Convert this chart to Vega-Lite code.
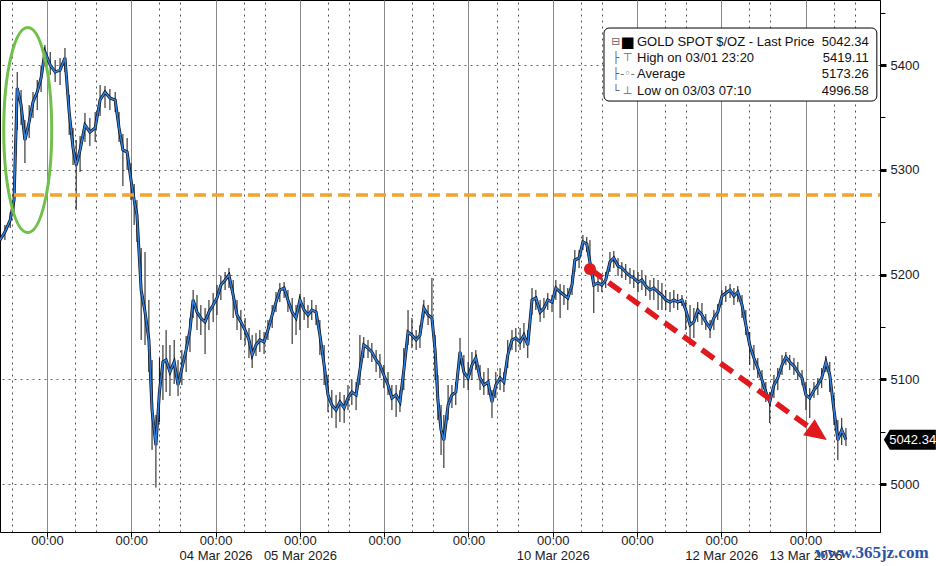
{
  "$schema": "https://vega.github.io/schema/vega-lite/v6.json",
  "width": 880,
  "height": 532,
  "autosize": "none",
  "padding": {"left": 0, "top": 0, "right": 56, "bottom": 34},
  "background": "white",
  "config": {
    "view": {"stroke": "#000", "strokeWidth": 1},
    "axis": {"labelFont": "Liberation Sans", "labelColor": "#1a1a1a", "title": null}
  },
  "datasets": {
    "gold": [
      {"t": -13.4, "p": 5232.9, "hi": 5240.6, "lo": 5223.4},
      {"t": -12.0, "p": 5240.6, "hi": 5247.3, "lo": 5232.9},
      {"t": -10.5, "p": 5252.0, "hi": 5259.7, "lo": 5244.4},
      {"t": -9.4, "p": 5271.1, "hi": 5277.8, "lo": 5259.7},
      {"t": -8.5, "p": 5378.0, "hi": 5393.3, "lo": 5337.9},
      {"t": -7.4, "p": 5361.8, "hi": 5376.1, "lo": 5342.7},
      {"t": -6.3, "p": 5328.4, "hi": 5347.5, "lo": 5306.4},
      {"t": -5.1, "p": 5345.6, "hi": 5361.8, "lo": 5330.3},
      {"t": -4.0, "p": 5364.7, "hi": 5374.2, "lo": 5349.4},
      {"t": -2.8, "p": 5374.2, "hi": 5385.7, "lo": 5357.0},
      {"t": -1.7, "p": 5387.6, "hi": 5399.0, "lo": 5374.2},
      {"t": -0.6, "p": 5412.4, "hi": 5419.1, "lo": 5401.0},
      {"t": 0.9, "p": 5400.0, "hi": 5412.4, "lo": 5390.5},
      {"t": 2.3, "p": 5393.3, "hi": 5404.8, "lo": 5383.8},
      {"t": 3.7, "p": 5395.2, "hi": 5406.7, "lo": 5380.9},
      {"t": 5.1, "p": 5406.7, "hi": 5416.2, "lo": 5393.3},
      {"t": 6.3, "p": 5355.1, "hi": 5371.4, "lo": 5333.2},
      {"t": 7.4, "p": 5320.8, "hi": 5339.9, "lo": 5304.5},
      {"t": 8.3, "p": 5304.5, "hi": 5328.4, "lo": 5261.6},
      {"t": 9.4, "p": 5318.9, "hi": 5332.2, "lo": 5297.9},
      {"t": 10.8, "p": 5342.7, "hi": 5354.2, "lo": 5326.5},
      {"t": 12.2, "p": 5336.0, "hi": 5349.4, "lo": 5322.7},
      {"t": 13.7, "p": 5339.9, "hi": 5355.1, "lo": 5326.5},
      {"t": 15.1, "p": 5366.6, "hi": 5380.9, "lo": 5351.3},
      {"t": 16.5, "p": 5374.2, "hi": 5380.0, "lo": 5359.0},
      {"t": 17.9, "p": 5368.5, "hi": 5377.1, "lo": 5357.0},
      {"t": 19.4, "p": 5366.6, "hi": 5374.2, "lo": 5355.1},
      {"t": 20.5, "p": 5339.9, "hi": 5355.1, "lo": 5326.5},
      {"t": 21.6, "p": 5318.9, "hi": 5334.1, "lo": 5284.5},
      {"t": 22.8, "p": 5316.9, "hi": 5330.3, "lo": 5299.8},
      {"t": 23.9, "p": 5290.2, "hi": 5306.4, "lo": 5271.1},
      {"t": 24.8, "p": 5271.1, "hi": 5286.4, "lo": 5247.3},
      {"t": 25.6, "p": 5256.8, "hi": 5271.1, "lo": 5231.0},
      {"t": 26.8, "p": 5185.2, "hi": 5225.3, "lo": 5137.5},
      {"t": 27.9, "p": 5164.2, "hi": 5221.5, "lo": 5132.7},
      {"t": 29.0, "p": 5137.5, "hi": 5175.7, "lo": 5106.9},
      {"t": 29.9, "p": 5070.6, "hi": 5118.4, "lo": 5032.5},
      {"t": 31.0, "p": 5037.2, "hi": 5065.9, "lo": 4996.6},
      {"t": 32.0, "p": 5087.8, "hi": 5120.3, "lo": 5059.2},
      {"t": 33.0, "p": 5116.5, "hi": 5132.7, "lo": 5080.2},
      {"t": 33.9, "p": 5118.4, "hi": 5147.0, "lo": 5087.8},
      {"t": 35.0, "p": 5106.9, "hi": 5132.7, "lo": 5084.0},
      {"t": 36.2, "p": 5116.5, "hi": 5137.5, "lo": 5095.5},
      {"t": 37.3, "p": 5094.5, "hi": 5118.4, "lo": 5084.0},
      {"t": 38.4, "p": 5110.7, "hi": 5127.9, "lo": 5094.5},
      {"t": 39.6, "p": 5127.9, "hi": 5141.3, "lo": 5106.9},
      {"t": 40.7, "p": 5147.0, "hi": 5158.5, "lo": 5126.0},
      {"t": 41.6, "p": 5175.7, "hi": 5185.2, "lo": 5158.5},
      {"t": 42.7, "p": 5164.2, "hi": 5180.4, "lo": 5147.0},
      {"t": 43.8, "p": 5158.5, "hi": 5170.9, "lo": 5142.2},
      {"t": 45.0, "p": 5154.7, "hi": 5168.0, "lo": 5124.1},
      {"t": 46.1, "p": 5164.2, "hi": 5175.7, "lo": 5147.0},
      {"t": 47.3, "p": 5170.9, "hi": 5182.3, "lo": 5154.7},
      {"t": 48.4, "p": 5177.6, "hi": 5190.0, "lo": 5161.3},
      {"t": 49.5, "p": 5190.0, "hi": 5198.6, "lo": 5175.7},
      {"t": 50.7, "p": 5194.8, "hi": 5202.4, "lo": 5185.2},
      {"t": 51.8, "p": 5199.5, "hi": 5206.2, "lo": 5187.1},
      {"t": 53.0, "p": 5180.4, "hi": 5194.8, "lo": 5158.5},
      {"t": 54.1, "p": 5161.3, "hi": 5175.7, "lo": 5147.0},
      {"t": 55.2, "p": 5154.7, "hi": 5166.1, "lo": 5137.5},
      {"t": 56.4, "p": 5147.0, "hi": 5158.5, "lo": 5132.7},
      {"t": 57.5, "p": 5137.5, "hi": 5148.9, "lo": 5120.3},
      {"t": 58.4, "p": 5123.2, "hi": 5142.2, "lo": 5110.7},
      {"t": 59.5, "p": 5132.7, "hi": 5144.1, "lo": 5122.2},
      {"t": 60.6, "p": 5137.5, "hi": 5147.0, "lo": 5126.0},
      {"t": 61.8, "p": 5135.6, "hi": 5145.1, "lo": 5124.1},
      {"t": 62.9, "p": 5147.0, "hi": 5156.6, "lo": 5137.5},
      {"t": 64.1, "p": 5161.3, "hi": 5170.9, "lo": 5148.9},
      {"t": 65.2, "p": 5173.7, "hi": 5183.3, "lo": 5164.2},
      {"t": 66.3, "p": 5185.2, "hi": 5191.9, "lo": 5173.7},
      {"t": 67.5, "p": 5187.1, "hi": 5192.8, "lo": 5177.6},
      {"t": 68.6, "p": 5175.7, "hi": 5185.2, "lo": 5164.2},
      {"t": 69.8, "p": 5164.2, "hi": 5177.6, "lo": 5133.7},
      {"t": 70.9, "p": 5158.5, "hi": 5170.9, "lo": 5142.2},
      {"t": 72.0, "p": 5175.7, "hi": 5181.4, "lo": 5147.0},
      {"t": 73.2, "p": 5166.1, "hi": 5178.5, "lo": 5156.6},
      {"t": 74.3, "p": 5161.3, "hi": 5170.9, "lo": 5148.9},
      {"t": 75.4, "p": 5166.1, "hi": 5175.7, "lo": 5156.6},
      {"t": 76.6, "p": 5164.2, "hi": 5170.9, "lo": 5151.8},
      {"t": 77.7, "p": 5142.2, "hi": 5156.6, "lo": 5123.2},
      {"t": 78.9, "p": 5113.6, "hi": 5132.7, "lo": 5094.5},
      {"t": 80.0, "p": 5085.0, "hi": 5104.1, "lo": 5068.7},
      {"t": 81.1, "p": 5075.4, "hi": 5089.7, "lo": 5063.0},
      {"t": 82.3, "p": 5070.6, "hi": 5085.0, "lo": 5053.5},
      {"t": 83.4, "p": 5078.3, "hi": 5087.8, "lo": 5059.2},
      {"t": 84.6, "p": 5072.6, "hi": 5085.0, "lo": 5058.2},
      {"t": 85.7, "p": 5082.1, "hi": 5094.5, "lo": 5070.6},
      {"t": 86.8, "p": 5087.8, "hi": 5099.3, "lo": 5075.4},
      {"t": 88.0, "p": 5085.0, "hi": 5097.4, "lo": 5070.6},
      {"t": 89.1, "p": 5108.8, "hi": 5142.2, "lo": 5094.5},
      {"t": 90.2, "p": 5132.7, "hi": 5140.3, "lo": 5120.3},
      {"t": 91.4, "p": 5129.8, "hi": 5137.5, "lo": 5120.3},
      {"t": 92.5, "p": 5126.0, "hi": 5134.6, "lo": 5116.5},
      {"t": 93.7, "p": 5118.4, "hi": 5127.9, "lo": 5106.9},
      {"t": 94.8, "p": 5113.6, "hi": 5124.1, "lo": 5101.2},
      {"t": 95.9, "p": 5104.1, "hi": 5113.6, "lo": 5091.6},
      {"t": 97.1, "p": 5094.5, "hi": 5106.9, "lo": 5085.0},
      {"t": 98.2, "p": 5082.1, "hi": 5094.5, "lo": 5070.6},
      {"t": 99.4, "p": 5085.0, "hi": 5094.5, "lo": 5064.0},
      {"t": 100.5, "p": 5078.3, "hi": 5089.7, "lo": 5068.7},
      {"t": 101.6, "p": 5108.8, "hi": 5129.8, "lo": 5089.7},
      {"t": 102.8, "p": 5145.1, "hi": 5166.1, "lo": 5132.7},
      {"t": 103.9, "p": 5142.2, "hi": 5158.5, "lo": 5129.8},
      {"t": 105.1, "p": 5137.5, "hi": 5147.0, "lo": 5127.9},
      {"t": 106.2, "p": 5142.2, "hi": 5151.8, "lo": 5129.8},
      {"t": 107.3, "p": 5168.0, "hi": 5175.7, "lo": 5158.5},
      {"t": 108.5, "p": 5161.3, "hi": 5170.9, "lo": 5151.8},
      {"t": 109.6, "p": 5158.5, "hi": 5196.7, "lo": 5151.8},
      {"t": 110.5, "p": 5127.9, "hi": 5142.2, "lo": 5099.3},
      {"t": 111.3, "p": 5080.2, "hi": 5104.1, "lo": 5061.1},
      {"t": 112.2, "p": 5051.6, "hi": 5075.4, "lo": 5027.7},
      {"t": 113.0, "p": 5042.0, "hi": 5065.9, "lo": 5015.3},
      {"t": 114.2, "p": 5075.4, "hi": 5094.5, "lo": 5061.1},
      {"t": 115.3, "p": 5085.0, "hi": 5094.5, "lo": 5072.6},
      {"t": 116.4, "p": 5087.8, "hi": 5097.4, "lo": 5075.4},
      {"t": 117.6, "p": 5126.0, "hi": 5139.4, "lo": 5113.6},
      {"t": 118.7, "p": 5106.9, "hi": 5123.2, "lo": 5091.6},
      {"t": 119.9, "p": 5101.2, "hi": 5116.5, "lo": 5089.7},
      {"t": 121.0, "p": 5113.6, "hi": 5126.0, "lo": 5099.3},
      {"t": 122.1, "p": 5120.3, "hi": 5127.9, "lo": 5108.8},
      {"t": 123.3, "p": 5101.2, "hi": 5113.6, "lo": 5089.7},
      {"t": 124.4, "p": 5094.5, "hi": 5106.9, "lo": 5085.0},
      {"t": 125.6, "p": 5097.4, "hi": 5110.7, "lo": 5085.0},
      {"t": 126.7, "p": 5078.3, "hi": 5089.7, "lo": 5063.0},
      {"t": 127.8, "p": 5094.5, "hi": 5106.9, "lo": 5082.1},
      {"t": 129.0, "p": 5101.2, "hi": 5110.7, "lo": 5089.7},
      {"t": 130.1, "p": 5097.4, "hi": 5106.9, "lo": 5087.8},
      {"t": 131.2, "p": 5123.2, "hi": 5137.5, "lo": 5110.7},
      {"t": 132.4, "p": 5137.5, "hi": 5147.0, "lo": 5127.9},
      {"t": 133.5, "p": 5139.4, "hi": 5148.9, "lo": 5126.0},
      {"t": 134.7, "p": 5135.6, "hi": 5148.9, "lo": 5127.9},
      {"t": 135.8, "p": 5142.2, "hi": 5153.7, "lo": 5129.8},
      {"t": 136.9, "p": 5132.7, "hi": 5147.0, "lo": 5120.3},
      {"t": 138.1, "p": 5175.7, "hi": 5187.1, "lo": 5161.3},
      {"t": 139.2, "p": 5177.6, "hi": 5185.2, "lo": 5166.1},
      {"t": 140.4, "p": 5164.2, "hi": 5175.7, "lo": 5154.7},
      {"t": 141.5, "p": 5168.0, "hi": 5177.6, "lo": 5158.5},
      {"t": 142.6, "p": 5175.7, "hi": 5182.3, "lo": 5166.1},
      {"t": 143.8, "p": 5173.7, "hi": 5180.4, "lo": 5164.2},
      {"t": 144.9, "p": 5187.1, "hi": 5194.8, "lo": 5175.7},
      {"t": 146.1, "p": 5183.3, "hi": 5190.9, "lo": 5158.5},
      {"t": 147.2, "p": 5180.4, "hi": 5190.0, "lo": 5170.9},
      {"t": 148.3, "p": 5177.6, "hi": 5187.1, "lo": 5166.1},
      {"t": 149.5, "p": 5190.0, "hi": 5199.5, "lo": 5180.4},
      {"t": 150.3, "p": 5213.8, "hi": 5223.4, "lo": 5202.4},
      {"t": 151.5, "p": 5215.8, "hi": 5223.4, "lo": 5206.2},
      {"t": 152.6, "p": 5231.0, "hi": 5237.7, "lo": 5223.4},
      {"t": 153.7, "p": 5229.1, "hi": 5235.8, "lo": 5221.5},
      {"t": 154.6, "p": 5211.9, "hi": 5232.9, "lo": 5202.4},
      {"t": 155.7, "p": 5190.0, "hi": 5202.4, "lo": 5163.2},
      {"t": 156.9, "p": 5191.9, "hi": 5198.6, "lo": 5183.3},
      {"t": 158.0, "p": 5190.0, "hi": 5196.7, "lo": 5183.3},
      {"t": 159.1, "p": 5194.8, "hi": 5202.4, "lo": 5187.1},
      {"t": 160.3, "p": 5211.9, "hi": 5221.5, "lo": 5202.4},
      {"t": 161.4, "p": 5215.8, "hi": 5222.4, "lo": 5206.2},
      {"t": 162.6, "p": 5208.1, "hi": 5215.8, "lo": 5198.6},
      {"t": 163.7, "p": 5206.2, "hi": 5211.9, "lo": 5196.7},
      {"t": 164.8, "p": 5202.4, "hi": 5210.0, "lo": 5194.8},
      {"t": 166.0, "p": 5198.6, "hi": 5206.2, "lo": 5190.9},
      {"t": 167.1, "p": 5196.7, "hi": 5204.3, "lo": 5187.1},
      {"t": 168.3, "p": 5192.8, "hi": 5202.4, "lo": 5183.3},
      {"t": 169.4, "p": 5194.8, "hi": 5204.3, "lo": 5185.2},
      {"t": 170.5, "p": 5189.0, "hi": 5198.6, "lo": 5179.5},
      {"t": 171.7, "p": 5185.2, "hi": 5194.8, "lo": 5175.7},
      {"t": 172.8, "p": 5187.1, "hi": 5196.7, "lo": 5175.7},
      {"t": 174.0, "p": 5183.3, "hi": 5194.8, "lo": 5166.1},
      {"t": 175.1, "p": 5180.4, "hi": 5191.9, "lo": 5166.1},
      {"t": 176.2, "p": 5175.7, "hi": 5185.2, "lo": 5166.1},
      {"t": 177.4, "p": 5173.7, "hi": 5183.3, "lo": 5164.2},
      {"t": 178.5, "p": 5175.7, "hi": 5185.2, "lo": 5168.0},
      {"t": 179.6, "p": 5173.7, "hi": 5181.4, "lo": 5166.1},
      {"t": 180.8, "p": 5175.7, "hi": 5180.4, "lo": 5169.9},
      {"t": 181.9, "p": 5166.1, "hi": 5175.7, "lo": 5147.0},
      {"t": 183.1, "p": 5151.8, "hi": 5170.9, "lo": 5132.7},
      {"t": 184.2, "p": 5154.7, "hi": 5168.0, "lo": 5139.4},
      {"t": 185.3, "p": 5166.1, "hi": 5173.7, "lo": 5154.7},
      {"t": 186.5, "p": 5161.3, "hi": 5172.8, "lo": 5151.8},
      {"t": 187.6, "p": 5154.7, "hi": 5162.3, "lo": 5147.0},
      {"t": 188.8, "p": 5148.9, "hi": 5156.6, "lo": 5139.4},
      {"t": 189.9, "p": 5158.5, "hi": 5166.1, "lo": 5147.0},
      {"t": 191.0, "p": 5164.2, "hi": 5171.8, "lo": 5156.6},
      {"t": 192.2, "p": 5179.5, "hi": 5185.2, "lo": 5170.9},
      {"t": 193.3, "p": 5182.3, "hi": 5189.0, "lo": 5173.7},
      {"t": 194.5, "p": 5185.2, "hi": 5190.9, "lo": 5177.6},
      {"t": 195.6, "p": 5179.5, "hi": 5187.1, "lo": 5170.9},
      {"t": 196.7, "p": 5183.3, "hi": 5189.0, "lo": 5173.7},
      {"t": 197.9, "p": 5170.9, "hi": 5180.4, "lo": 5158.5},
      {"t": 199.0, "p": 5151.8, "hi": 5166.1, "lo": 5142.2},
      {"t": 200.1, "p": 5132.7, "hi": 5145.1, "lo": 5113.6},
      {"t": 201.3, "p": 5120.3, "hi": 5132.7, "lo": 5108.8},
      {"t": 202.4, "p": 5110.7, "hi": 5120.3, "lo": 5101.2},
      {"t": 203.6, "p": 5099.3, "hi": 5108.8, "lo": 5087.8},
      {"t": 204.7, "p": 5087.8, "hi": 5097.4, "lo": 5078.3},
      {"t": 205.8, "p": 5078.3, "hi": 5087.8, "lo": 5058.2},
      {"t": 207.0, "p": 5094.5, "hi": 5104.1, "lo": 5082.1},
      {"t": 208.1, "p": 5101.2, "hi": 5110.7, "lo": 5089.7},
      {"t": 209.3, "p": 5113.6, "hi": 5123.2, "lo": 5104.1},
      {"t": 210.4, "p": 5121.2, "hi": 5126.0, "lo": 5113.6},
      {"t": 211.5, "p": 5116.5, "hi": 5123.2, "lo": 5108.8},
      {"t": 212.7, "p": 5112.6, "hi": 5120.3, "lo": 5104.1},
      {"t": 213.8, "p": 5106.9, "hi": 5116.5, "lo": 5099.3},
      {"t": 215.0, "p": 5101.2, "hi": 5108.8, "lo": 5094.5},
      {"t": 216.1, "p": 5085.0, "hi": 5097.4, "lo": 5070.6},
      {"t": 217.2, "p": 5082.1, "hi": 5091.6, "lo": 5063.0},
      {"t": 218.4, "p": 5089.7, "hi": 5097.4, "lo": 5082.1},
      {"t": 219.5, "p": 5094.5, "hi": 5101.2, "lo": 5085.0},
      {"t": 220.6, "p": 5101.2, "hi": 5110.7, "lo": 5091.6},
      {"t": 221.8, "p": 5116.5, "hi": 5122.2, "lo": 5106.9},
      {"t": 222.9, "p": 5104.1, "hi": 5116.5, "lo": 5087.8},
      {"t": 224.1, "p": 5070.6, "hi": 5085.0, "lo": 5056.3},
      {"t": 225.2, "p": 5042.0, "hi": 5061.1, "lo": 5022.9},
      {"t": 226.3, "p": 5051.6, "hi": 5063.0, "lo": 5037.2},
      {"t": 227.5, "p": 5042.34, "hi": 5053.5, "lo": 5036.3}
    ]
  },
  "resolve": {"axis": {"x": "independent", "y": "independent"}},
  "layer": [
    {
      "data": {"name": "gold"},
      "mark": {"type": "rule", "color": "#111", "strokeWidth": 1},
      "encoding": {
        "x": {
          "field": "t", "type": "quantitative",
          "scale": {"domain": [-13.4, 237.2], "nice": false, "zero": false},
          "axis": {
            "values": [0, 24, 48, 72, 96, 120, 144, 168, 192, 216],
            "grid": true, "gridColor": "#8a8a8a", "gridWidth": 1,
            "domainColor": "#000", "tickColor": "#000", "tickSize": 5,
            "labelFontSize": 13, "labelPadding": -3, "labelLineHeight": 15,
            "labelOverlap": false, "labelFlush": false,
            "labelExpr": "datum.value == 48 ? ['00:00', '04 Mar 2026'] : datum.value == 72 ? ['00:00', '05 Mar 2026'] : datum.value == 144 ? ['00:00', '10 Mar 2026'] : datum.value == 192 ? ['00:00', '12 Mar 2026'] : datum.value == 216 ? ['00:00', '13 Mar 2026'] : '00:00'"
          }
        },
        "y": {
          "field": "lo", "type": "quantitative",
          "scale": {"domain": [4954.2, 5462.05], "nice": false, "zero": false},
          "axis": {
            "orient": "right", "values": [5000, 5100, 5200, 5300, 5400], "format": "d",
            "grid": true, "gridDash": [2, 4], "gridColor": "#666",
            "domainColor": "#000", "tickColor": "#000", "tickSize": 6, "tickWidth": 3,
            "labelFontSize": 13, "labelPadding": 4
          }
        },
        "y2": {"field": "hi"}
      }
    },
    {
      "data": {"name": "gold"},
      "mark": {"type": "line", "color": "#0d0d1a", "strokeWidth": 3, "interpolate": "linear"},
      "encoding": {
        "x": {
          "field": "t", "type": "quantitative",
          "axis": {
            "values": [8, 32, 56, 80, 104, 128, 152, 176, 200, 224],
            "grid": true, "gridDash": [2, 4], "gridColor": "#555",
            "labels": false, "domain": false, "tickColor": "#000", "tickSize": 4
          }
        },
        "y": {
          "field": "p", "type": "quantitative",
          "axis": {
            "orient": "right", "values": [5050, 5150, 5250, 5350, 5450],
            "grid": false, "labels": false, "domain": false,
            "tickColor": "#000", "tickSize": 5
          }
        }
      }
    },
    {
      "data": {"name": "gold"},
      "mark": {"type": "line", "color": "#2f80dc", "strokeWidth": 1.6},
      "encoding": {
        "x": {
          "field": "t", "type": "quantitative",
          "axis": {
            "values": [-10, 14, 38, 62, 86, 110, 134, 158, 182, 206, 230],
            "grid": true, "gridDash": [2, 4], "gridColor": "#555",
            "labels": false, "domain": false, "tickColor": "#000", "tickSize": 34
          }
        },
        "y": {"field": "p", "type": "quantitative", "axis": null}
      }
    },
    {
      "data": {"values": [{}]},
      "mark": {"type": "rule", "color": "#f5a32a", "strokeWidth": 3.5, "strokeDash": [12, 6]},
      "encoding": {
        "x": {"datum": -9.4, "type": "quantitative", "axis": null},
        "x2": {"datum": 237.2},
        "y": {"datum": 5275.9, "type": "quantitative", "axis": null}
      }
    },
    {
      "data": {"values": [{}]},
      "mark": {
        "type": "point", "filled": false, "stroke": "#72c04c", "strokeWidth": 3, "opacity": 1,
        "size": 42025, "shape": "M0,-1 A0.234,1 0 1,1 0,1 A0.234,1 0 1,1 0,-1 Z"
      },
      "encoding": {
        "x": {"datum": -5.5, "type": "quantitative", "axis": null},
        "y": {"datum": 5337.9, "type": "quantitative", "axis": null}
      }
    },
    {
      "data": {"values": [{}]},
      "mark": {"type": "rule", "color": "#e0191e", "strokeWidth": 5.5, "strokeDash": [15, 8]},
      "encoding": {
        "x": {"datum": 154.6, "type": "quantitative", "axis": null},
        "x2": {"datum": 217.0},
        "y": {"datum": 5205.3, "type": "quantitative", "axis": null},
        "y2": {"datum": 5054.3}
      }
    },
    {
      "data": {"values": [{}]},
      "mark": {"type": "point", "filled": true, "color": "#e0191e", "opacity": 1, "size": 144, "shape": "circle"},
      "encoding": {
        "x": {"datum": 154.6, "type": "quantitative", "axis": null},
        "y": {"datum": 5205.3, "type": "quantitative", "axis": null}
      }
    },
    {
      "data": {"values": [{}]},
      "mark": {
        "type": "point", "filled": true, "color": "#e0191e", "opacity": 1, "size": 484, "angle": 35.8,
        "shape": "M1,0 L-1,-0.9 L-1,0.9 Z"
      },
      "encoding": {
        "x": {"datum": 219.5, "type": "quantitative", "axis": null},
        "y": {"datum": 5048.1, "type": "quantitative", "axis": null}
      }
    },
    {
      "data": {"values": [{}]},
      "mark": {"type": "rect", "fill": "white", "stroke": "#000", "strokeWidth": 1, "cornerRadius": 5},
      "encoding": {
        "x": {"datum": 158.6, "type": "quantitative", "axis": null},
        "x2": {"datum": 236.3},
        "y": {"datum": 5435.3, "type": "quantitative", "axis": null},
        "y2": {"datum": 5365.6}
      }
    },
    {
      "data": {"values": [{}]},
      "mark": {"type": "text", "text": "■", "font": "DejaVu Sans", "fontSize": 15, "color": "#000", "align": "center", "baseline": "middle"},
      "encoding": {
        "x": {"datum": 165.3, "type": "quantitative", "axis": null},
        "y": {"datum": 5422.2, "type": "quantitative", "axis": null}
      }
    },
    {
      "data": {"values": [{}]},
      "mark": {
        "type": "text", "text": ["⊟", "├", "├", "└"], "lineHeight": 16.3,
        "font": "DejaVu Sans", "fontSize": 11, "color": "#666", "align": "center", "baseline": "middle"
      },
      "encoding": {
        "x": {"datum": 162.0, "type": "quantitative", "axis": null},
        "y": {"datum": 5422.2, "type": "quantitative", "axis": null}
      }
    },
    {
      "data": {"values": [{}]},
      "mark": {
        "type": "text", "text": [" ", "⊤", "-◦-", "⊥"], "lineHeight": 16.3,
        "font": "DejaVu Sans", "fontSize": 11, "color": "#666", "align": "center", "baseline": "middle"
      },
      "encoding": {
        "x": {"datum": 165.3, "type": "quantitative", "axis": null},
        "y": {"datum": 5422.2, "type": "quantitative", "axis": null}
      }
    },
    {
      "data": {"values": [{}]},
      "mark": {
        "type": "text",
        "text": ["GOLD SPOT $/OZ - Last Price", "High on 03/01 23:20", "Average", "Low on 03/03 07:10"],
        "lineHeight": 16.3, "font": "Liberation Sans", "fontSize": 13, "color": "#111",
        "align": "left", "baseline": "middle"
      },
      "encoding": {
        "x": {"datum": 168.0, "type": "quantitative", "axis": null},
        "y": {"datum": 5422.2, "type": "quantitative", "axis": null}
      }
    },
    {
      "data": {"values": [{}]},
      "mark": {
        "type": "text", "text": ["5042.34", "5419.11", "5173.26", "4996.58"],
        "lineHeight": 16.3, "font": "Liberation Sans", "fontSize": 13, "color": "#111",
        "align": "right", "baseline": "middle"
      },
      "encoding": {
        "x": {"datum": 234.0, "type": "quantitative", "axis": null},
        "y": {"datum": 5422.2, "type": "quantitative", "axis": null}
      }
    },
    {
      "data": {"values": [{}]},
      "mark": {
        "type": "point", "filled": true, "color": "#000", "opacity": 1, "size": 2704,
        "shape": "M-1,0 L-0.77,-0.385 L1,-0.385 L1,0.385 L-0.77,0.385 Z"
      },
      "encoding": {
        "x": {"datum": 245.7, "type": "quantitative", "axis": null},
        "y": {"datum": 5042.34, "type": "quantitative", "axis": null}
      }
    },
    {
      "data": {"values": [{}]},
      "mark": {"type": "text", "text": "5042.34", "font": "Liberation Sans", "fontSize": 13, "color": "white", "align": "center", "baseline": "middle"},
      "encoding": {
        "x": {"datum": 246.5, "type": "quantitative", "axis": null},
        "y": {"datum": 5042.34, "type": "quantitative", "axis": null}
      }
    },
    {
      "data": {"values": [{}]},
      "mark": {"type": "text", "text": "www.365jz.com", "font": "Liberation Serif", "fontWeight": "bold", "fontSize": 17, "color": "#2c55a5", "align": "center", "baseline": "middle"},
      "encoding": {
        "x": {"datum": 234.9, "type": "quantitative", "axis": null},
        "y": {"datum": 4934.2, "type": "quantitative", "axis": null}
      }
    }
  ]
}
